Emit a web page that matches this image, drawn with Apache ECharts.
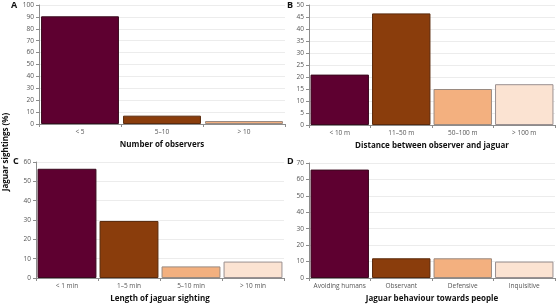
<!DOCTYPE html>
<html>
<head>
<meta charset="utf-8">
<script src="https://cdn.jsdelivr.net/npm/echarts@6/dist/echarts.min.js"></script>
<style>
  html, body { margin: 0; padding: 0; background: #fff; }
  #myChart { width: 557px; height: 304px; }
</style>
</head>
<body>
<div id="myChart"></div>
<script>
// panel data
var catsA = ['< 5', '5–10', '> 10'];
var valsA = [90.5, 7, 2.5];
var catsB = ['< 10 m', '11–50 m', '50–100 m', '> 100 m'];
var valsB = [21, 46.5, 15, 17];
var catsC = ['< 1 min', '1–5 min', '5–10 min', '> 10 min'];
var valsC = [56.5, 29.5, 6, 8.5];
var catsD = ['Avoiding humans', 'Observant', 'Defensive', 'Inquisitive'];
var valsD = [66, 12, 12, 10];
var namesX = ['Number of observers', 'Distance between observer and jaguar', 'Length of jaguar sighting', 'Jaguar behaviour towards people'];
var yMax = [100, 50, 60, 70];
var yStep = [10, 5, 10, 10];
var panelLetters = ['A', 'B', 'C', 'D'];

var colors = ['#5e0030', '#8a3d0c', '#f3b07f', '#fbe3d2'];
var borders = ['#3a0a1e', '#5a2a0c', '#9a8a80', '#9a9090'];

var cats = [catsA, catsB, catsC, catsD];
var vals = [valsA, valsB, valsC, valsD];

var grids = [
    { left: 39, right: 272, top: 5, bottom: 180 },
    { left: 309, right: 2, top: 5, bottom: 179 },
    { left: 36, right: 273, top: 162, bottom: 25 },
    { left: 309, right: 2, top: 163, bottom: 25 }
];

var xAxes = [], yAxes = [], series = [];
for (var i = 0; i < 4; i++) {
    xAxes.push({
        type: 'category',
        gridIndex: i,
        data: cats[i],
        name: namesX[i],
        nameLocation: 'middle',
        nameGap: 17,
        nameTextStyle: { fontSize: 8, fontWeight: 'bold', color: '#111', fontFamily: 'Open Sans' },
        axisLine: { lineStyle: { color: '#8c8c8c' } },
        axisTick: { show: true, length: 3, lineStyle: { color: '#8c8c8c' } },
        axisLabel: { interval: 0, fontSize: 6.5, color: '#555', margin: 5, fontFamily: 'Open Sans' }
    });
    yAxes.push({
        type: 'value',
        gridIndex: i,
        min: 0,
        max: yMax[i],
        interval: yStep[i],
        axisLine: { show: true, lineStyle: { color: '#8c8c8c' } },
        axisTick: { show: true, length: 3, lineStyle: { color: '#8c8c8c' } },
        axisLabel: { fontSize: 6.5, color: '#555', margin: 5, fontFamily: 'Open Sans' },
        splitLine: { show: true, lineStyle: { color: '#ececec' } }
    });
    series.push({
        type: 'bar',
        xAxisIndex: i,
        yAxisIndex: i,
        barCategoryGap: '5%',
        data: vals[i].map(function (v, j) {
            return { value: v, itemStyle: { color: colors[j], borderColor: borders[j], borderWidth: 1 } };
        })
    });
}

var letterPos = [[11, 1], [287, 1], [13, 157], [287, 157]];
var graphics = panelLetters.map(function (t, i) {
    return {
        type: 'text', left: letterPos[i][0], top: letterPos[i][1],
        style: { text: t, fontSize: 9, fontWeight: 'bold', fill: '#111', fontFamily: 'Open Sans' }
    };
});
// shared y-axis title
graphics.push({
    type: 'text', x: 6, y: 152, rotation: Math.PI / 2,
    style: { text: 'Jaguar sightings (%)', fontSize: 8, fontWeight: 'bold', fill: '#111',
             fontFamily: 'Open Sans', align: 'center', verticalAlign: 'middle' }
});

var myChart = echarts.init(document.getElementById('myChart'));
myChart.setOption({
    animation: false,
    grid: grids,
    xAxis: xAxes,
    yAxis: yAxes,
    series: series,
    graphic: graphics
});
</script>
</body>
</html>
